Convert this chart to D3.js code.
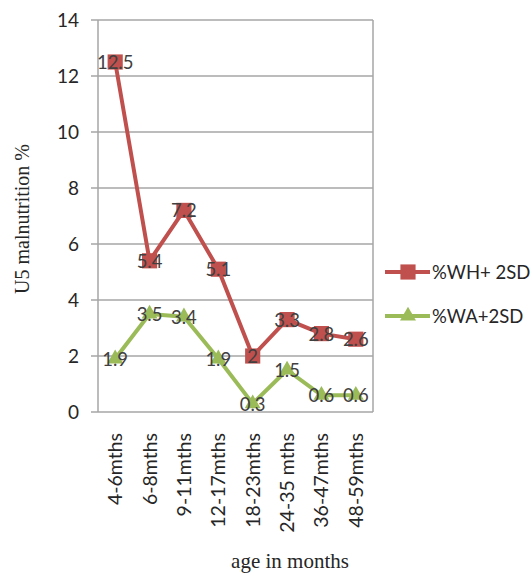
<!DOCTYPE html>
<html><head><meta charset="utf-8">
<script src="https://cdn.jsdelivr.net/npm/d3@7"></script>
<style>body{margin:0;background:#fff}</style>
</head><body>
<script>
const categories = ["4-6mths","6-8mths","9-11mths","12-17mths","18-23mths","24-35 mths","36-47mths","48-59mths"];
const whValues = [12.5,5.4,7.2,5.1,2,3.3,2.8,2.6];
const waValues = [1.9,3.5,3.4,1.9,0.3,1.5,0.6,0.6];
const yTicks = [0,2,4,6,8,10,12,14];
const seriesNames = ["%WH+ 2SD","%WA+2SD"];

const W=531,H=575;
const m={l:98,r:158,t:20,b:163};
const svg=d3.select("body").append("svg").attr("width",W).attr("height",H);
const x=d3.scaleBand().domain(categories).range([m.l,W-m.r]);
const y=d3.scaleLinear().domain([0,14]).range([H-m.b,m.t]);
const font="Lato, 'Open Sans', sans-serif";
const grid="#a6a6a6";

svg.append("g").selectAll("line").data(yTicks).join("line")
 .attr("x1",m.l-7).attr("x2",W-m.r).attr("y1",d=>y(d)).attr("y2",d=>y(d))
 .attr("stroke",grid).attr("stroke-width",1.5);
svg.append("line").attr("x1",m.l).attr("x2",m.l).attr("y1",y(14)).attr("y2",y(0)).attr("stroke",grid).attr("stroke-width",1.5);
svg.append("line").attr("x1",W-m.r).attr("x2",W-m.r).attr("y1",y(14)).attr("y2",y(0)).attr("stroke",grid).attr("stroke-width",1.5);

svg.append("g").selectAll("text").data(yTicks).join("text")
 .attr("x",m.l-19).attr("y",d=>y(d)).attr("dy","0.36em").attr("text-anchor","end")
 .attr("font-family",font).attr("font-size",19).attr("fill","#262626").text(d=>d);

svg.append("g").selectAll("text").data(categories).join("text")
 .attr("transform",d=>`translate(${x(d)+x.bandwidth()/2+7},${y(0)+21}) rotate(-90)`)
 .attr("text-anchor","end").attr("font-family",font).attr("font-size",19.5).attr("fill","#262626").text(d=>d);

svg.append("text").attr("transform",`translate(29,${(y(0)+y(14))/2+3}) rotate(-90)`).attr("text-anchor","middle")
 .attr("font-family","'Liberation Serif', serif").attr("font-size",20).attr("fill","#262626").text("U5 malnutrition %");
svg.append("text").attr("x",290).attr("y",568).attr("text-anchor","middle")
 .attr("font-family","'Liberation Serif', serif").attr("font-size",21).attr("fill","#262626").text("age in months");

const cx=d=>x(d)+x.bandwidth()/2;
const series=[
 {name:seriesNames[0],vals:whValues,color:"#c0504d",marker:"square"},
 {name:seriesNames[1],vals:waValues,color:"#9bbb59",marker:"triangle"}
];
const line=d3.line().x(d=>cx(d.c)).y(d=>y(d.v));
series.forEach((s,si)=>{
 const pts=categories.map((c,i)=>({c,v:s.vals[i]}));
 svg.append("path").datum(pts).attr("d",line).attr("fill","none").attr("stroke",s.color).attr("stroke-width",4).attr("stroke-linejoin","round");
 const sym=d3.symbol().type(s.marker==="square"?d3.symbolSquare:d3.symbolTriangle).size(s.marker==="square"?230:110);
 svg.append("g").selectAll("path").data(pts).join("path")
  .attr("transform",d=>`translate(${cx(d.c)},${y(d.v)})`).attr("d",sym).attr("fill",s.color);
 svg.append("g").selectAll("text").data(pts).join("text")
  .attr("x",d=>cx(d.c)).attr("y",d=>y(d.v)).attr("dy","0.38em").attr("text-anchor","middle")
  .attr("font-family",font).attr("font-size",18.5).attr("fill","#404040").text(d=>d.v);
 const ly=272+si*44;
 svg.append("line").attr("x1",385).attr("x2",430).attr("y1",ly).attr("y2",ly).attr("stroke",s.color).attr("stroke-width",4);
 svg.append("path").attr("transform",`translate(408,${ly})`).attr("d",sym).attr("fill",s.color);
 svg.append("text").attr("x",432).attr("y",ly).attr("dy","0.36em").attr("font-family",font).attr("font-size",18.5).attr("fill","#262626").text(s.name);
});
</script>
</body></html>
